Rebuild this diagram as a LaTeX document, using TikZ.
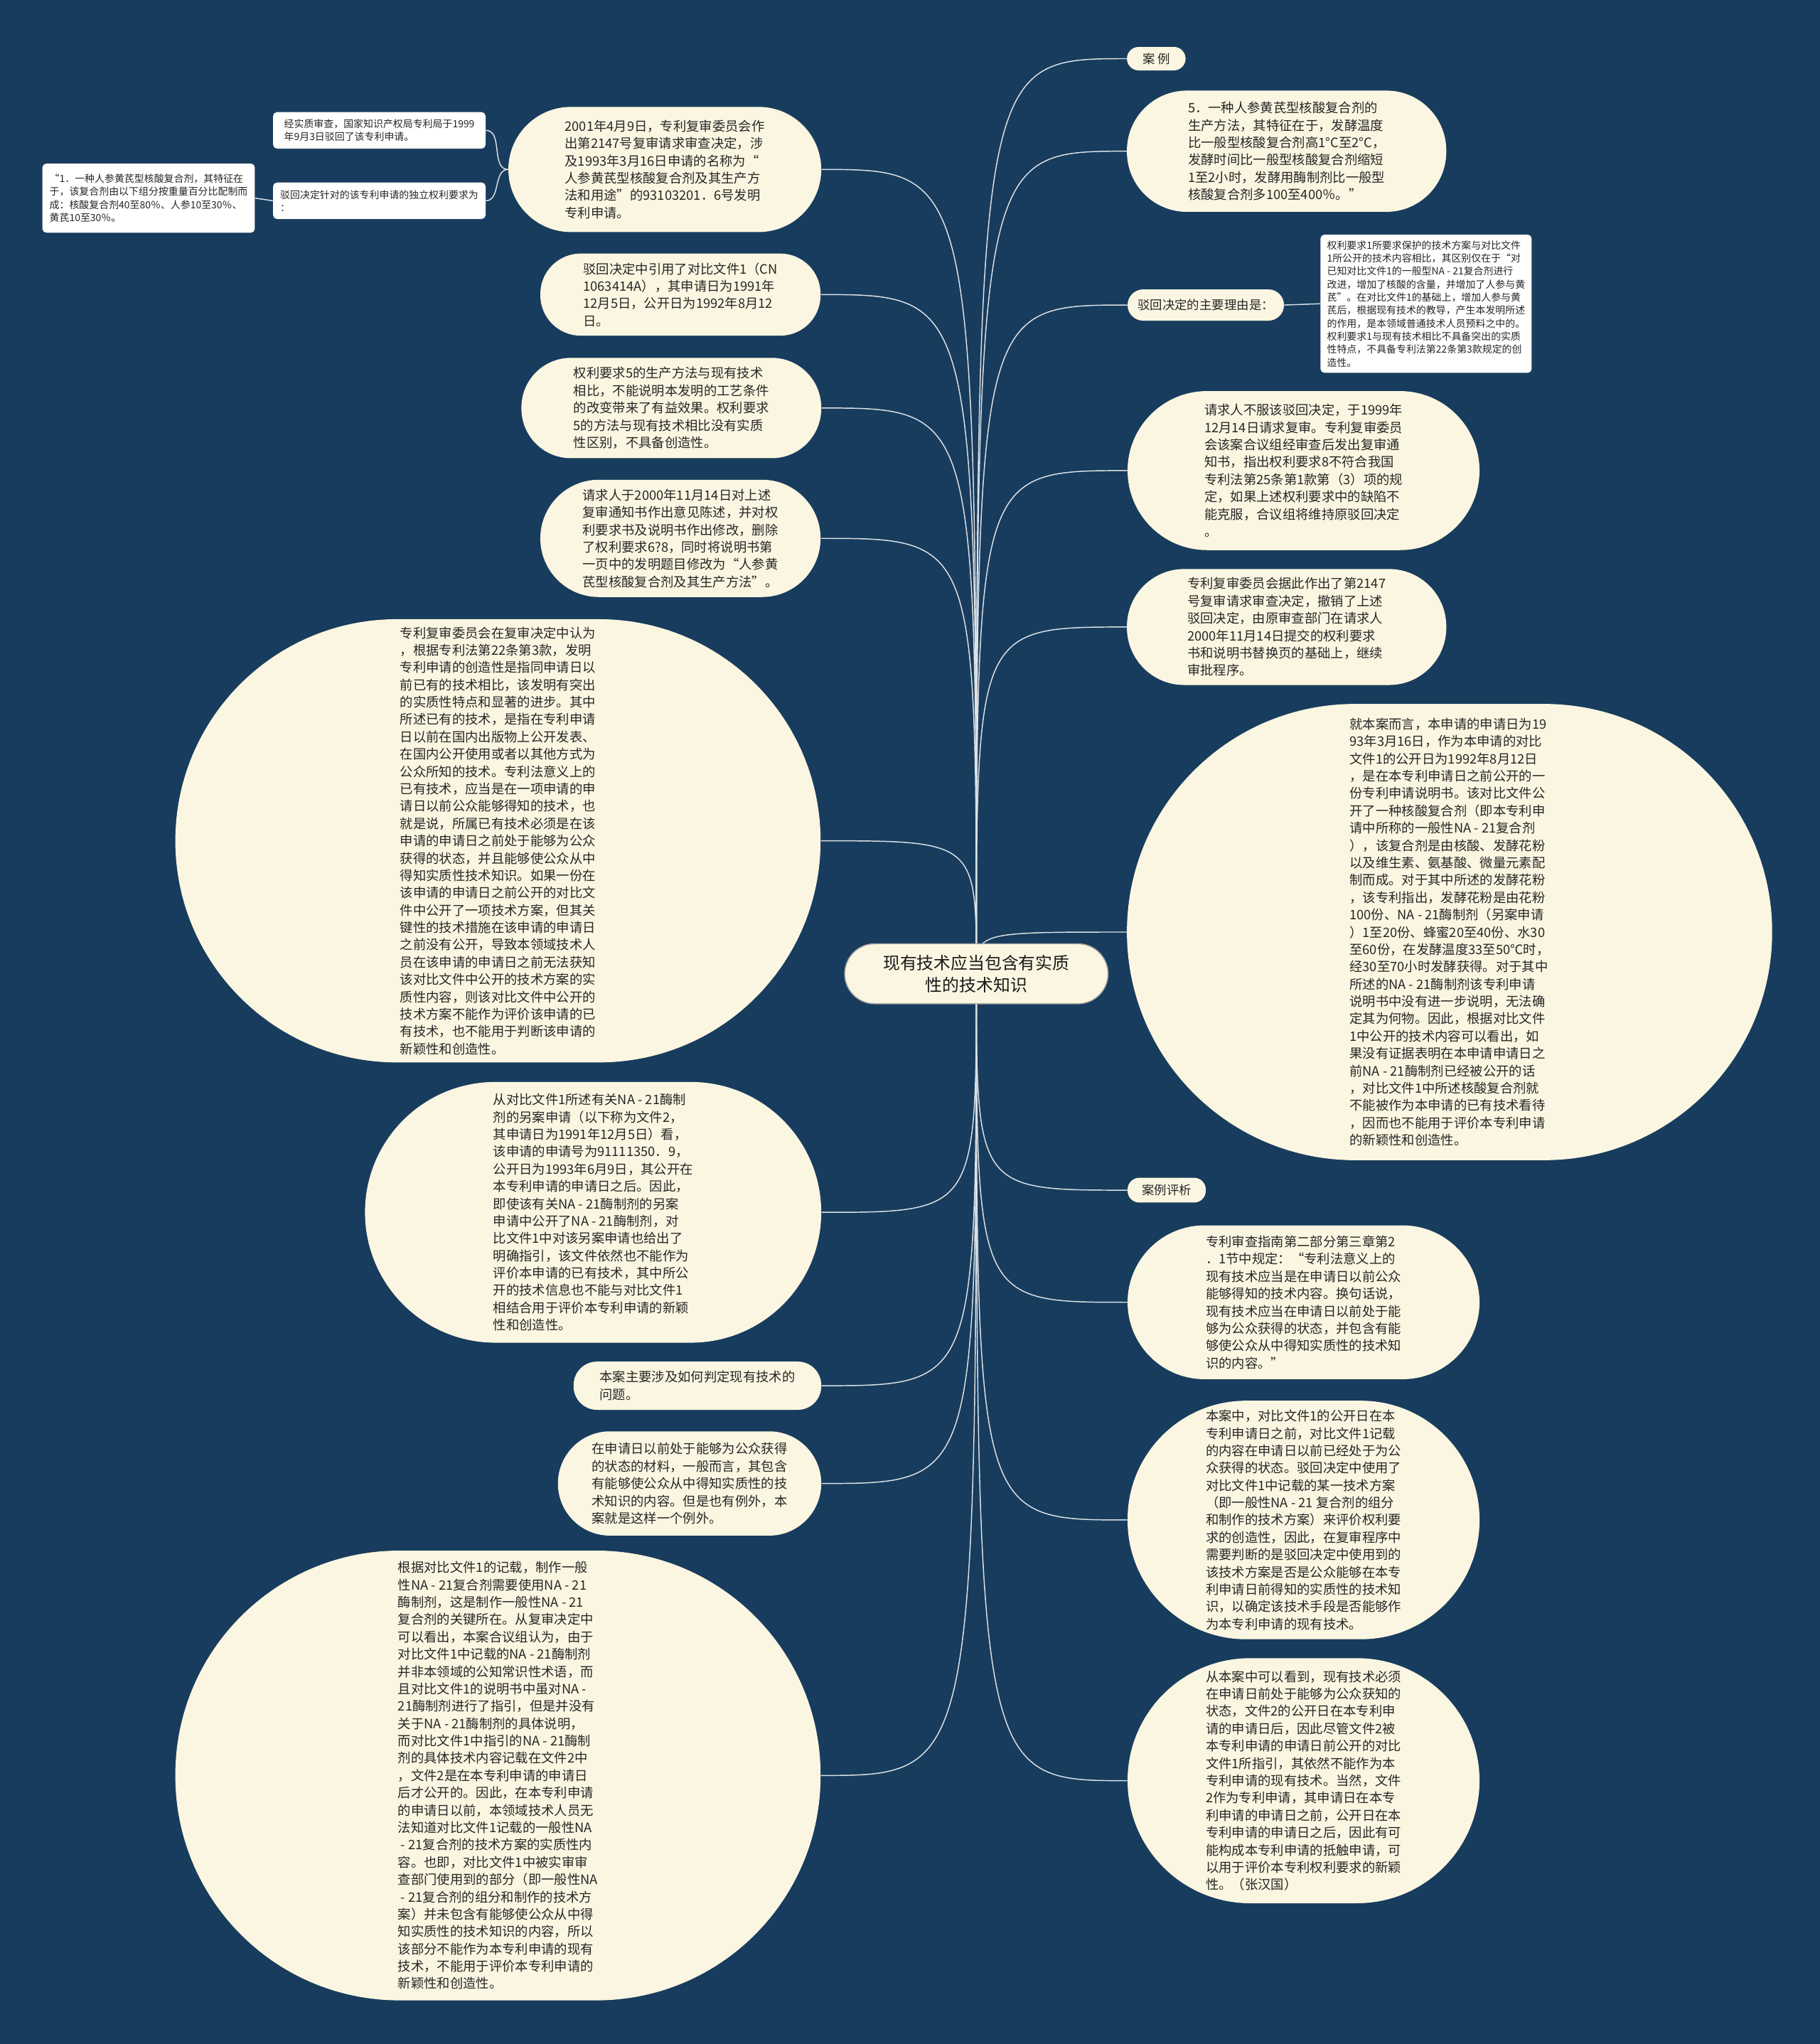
\documentclass[tikz,border=0pt]{standalone}
\usepackage{fontspec}
\setmainfont{Noto Sans CJK SC}
\usepackage{tikz}
\usetikzlibrary{backgrounds}
\definecolor{mapnavy}{HTML}{183C5D}
\definecolor{mapcream}{HTML}{FBF6E1}
\definecolor{mapline}{HTML}{DCE1E6}
\newcommand\bodysize{\fontsize{10pt}{13.3pt}\selectfont}
\newcommand\notesize{\fontsize{7.6pt}{10pt}\selectfont}
\newcommand\tagsize{\fontsize{9.5pt}{11pt}\selectfont}
\newcommand\rootsize{\fontsize{13pt}{17pt}\selectfont}
\tikzset{
  mapbox/.style={fill=mapcream, inner sep=0pt, align=left, font=\bodysize, text=black!85},
  maptag/.style={fill=mapcream, rounded corners=9pt, inner sep=0pt, align=center, font=\tagsize, text=black!85},
  notebox/.style={fill=white!97!mapcream, rounded corners=3pt, inner sep=0pt, align=left, font=\notesize, text=black!85},
  rootbox/.style={fill=mapcream, draw=black!35, line width=0.8pt, rounded corners=23pt, inner sep=0pt, align=center, font=\rootsize, text=black!90},
  maparr/.style={draw=mapline, line width=0.8pt},
}
\begin{document}
\begin{tikzpicture}[x=1pt,y=-1pt]
\useasboundingbox (0,0) rectangle (1396,1568);
\node[rootbox, minimum width=202pt, minimum height=46pt] (root) at (749,747)
  {现有技术应当包含有实质\\性的技术知识};
% right side
\node[maptag, minimum width=45pt, minimum height=18pt] (case) at (887,45) {案 例};
\node[mapbox, rounded corners=46pt, minimum width=245pt, minimum height=93pt] (claim5) at (987,116)
  {5．一种人参黄芪型核酸复合剂的\\生产方法，其特征在于，发酵温度\\比一般型核酸复合剂高1°C至2°C，\\发酵时间比一般型核酸复合剂缩短\\1至2小时，发酵用酶制剂比一般型\\核酸复合剂多100至400％。”};
\node[maptag, rounded corners=12pt, minimum width=120pt, minimum height=24pt] (reason) at (925,234) {驳回决定的主要理由是：};
\node[notebox, minimum width=162pt, minimum height=106pt] (reasontxt) at (1094,233)
  {权利要求1所要求保护的技术方案与对比文件\\1所公开的技术内容相比，其区别仅在于“对\\已知对比文件1的一般型NA - 21复合剂进行\\改进，增加了核酸的含量，并增加了人参与黄\\芪”。在对比文件1的基础上，增加人参与黄\\芪后，根据现有技术的教导，产生本发明所述\\的作用，是本领域普通技术人员预料之中的。\\权利要求1与现有技术相比不具备突出的实质\\性特点，不具备专利法第22条第3款规定的创\\造性。};
\node[mapbox, rounded corners=61pt, minimum width=270pt, minimum height=122pt] (appeal) at (1000,361)
  {请求人不服该驳回决定，于1999年\\12月14日请求复审。专利复审委员\\会该案合议组经审查后发出复审通\\知书，指出权利要求8不符合我国\\专利法第25条第1款第（3）项的规\\定，如果上述权利要求中的缺陷不\\能克服，合议组将维持原驳回决定\\。};
\node[mapbox, rounded corners=44pt, minimum width=245pt, minimum height=89pt] (revoke) at (987,481)
  {专利复审委员会据此作出了第2147\\号复审请求审查决定，撤销了上述\\驳回决定，由原审查部门在请求人\\2000年11月14日提交的权利要求\\书和说明书替换页的基础上，继续\\审批程序。};
\node[mapbox, rounded corners=175pt, minimum width=495pt, minimum height=350pt] (facts) at (1112,715)
  {就本案而言，本申请的申请日为19\\93年3月16日，作为本申请的对比\\文件1的公开日为1992年8月12日\\，是在本专利申请日之前公开的一\\份专利申请说明书。该对比文件公\\开了一种核酸复合剂（即本专利申\\请中所称的一般性NA - 21复合剂\\），该复合剂是由核酸、发酵花粉\\以及维生素、氨基酸、微量元素配\\制而成。对于其中所述的发酵花粉\\，该专利指出，发酵花粉是由花粉\\100份、NA - 21酶制剂（另案申请\\）1至20份、蜂蜜20至40份、水30\\至60份，在发酵温度33至50℃时，\\经30至70小时发酵获得。对于其中\\所述的NA - 21酶制剂该专利申请\\说明书中没有进一步说明，无法确\\定其为何物。因此，根据对比文件\\1中公开的技术内容可以看出，如\\果没有证据表明在本申请申请日之\\前NA - 21酶制剂已经被公开的话\\，对比文件1中所述核酸复合剂就\\不能被作为本申请的已有技术看待\\，因而也不能用于评价本专利申请\\的新颖性和创造性。};
\node[maptag, minimum width=60pt, minimum height=19pt] (review) at (895,913) {案例评析};
\node[mapbox, rounded corners=59pt, minimum width=270pt, minimum height=118pt] (guide) at (1000,999)
  {专利审查指南第二部分第三章第2\\．1节中规定：“专利法意义上的\\现有技术应当是在申请日以前公众\\能够得知的技术内容。换句话说，\\现有技术应当在申请日以前处于能\\够为公众获得的状态，并包含有能\\够使公众从中得知实质性的技术知\\识的内容。”};
\node[mapbox, rounded corners=91pt, minimum width=270pt, minimum height=183pt] (incase) at (1000,1166)
  {本案中，对比文件1的公开日在本\\专利申请日之前，对比文件1记载\\的内容在申请日以前已经处于为公\\众获得的状态。驳回决定中使用了\\对比文件1中记载的某一技术方案\\（即一般性NA - 21 复合剂的组分\\和制作的技术方案）来评价权利要\\求的创造性，因此，在复审程序中\\需要判断的是驳回决定中使用到的\\该技术方案是否是公众能够在本专\\利申请日前得知的实质性的技术知\\识，以确定该技术手段是否能够作\\为本专利申请的现有技术。};
\node[mapbox, rounded corners=94pt, minimum width=270pt, minimum height=188pt] (lesson) at (1000,1366)
  {从本案中可以看到，现有技术必须\\在申请日前处于能够为公众获知的\\状态，文件2的公开日在本专利申\\请的申请日后，因此尽管文件2被\\本专利申请的申请日前公开的对比\\文件1所指引，其依然不能作为本\\专利申请的现有技术。当然，文件\\2作为专利申请，其申请日在本专\\利申请的申请日之前，公开日在本\\专利申请的申请日之后，因此有可\\能构成本专利申请的抵触申请，可\\以用于评价本专利权利要求的新颖\\性。（张汉国）};
% left side
\node[mapbox, rounded corners=48pt, minimum width=240pt, minimum height=96pt] (decision) at (510,130)
  {2001年4月9日，专利复审委员会作\\出第2147号复审请求审查决定，涉\\及1993年3月16日申请的名称为“\\人参黄芪型核酸复合剂及其生产方\\法和用途”的93103201．6号发明\\专利申请。};
\node[notebox, minimum width=163pt, minimum height=28pt] (reject) at (291,100)
  {经实质审查，国家知识产权局专利局于1999\\年9月3日驳回了该专利申请。};
\node[notebox, minimum width=163pt, minimum height=28pt] (indep) at (291,154)
  {驳回决定针对的该专利申请的独立权利要求为\\：};
\node[notebox, minimum width=163pt, minimum height=53pt] (claim1) at (114,152)
  {“1．一种人参黄芪型核酸复合剂，其特征在\\于，该复合剂由以下组分按重量百分比配制而\\成：核酸复合剂40至80％、人参10至30％、\\黄芪10至30％。};
\node[mapbox, rounded corners=31pt, minimum width=215pt, minimum height=63pt] (cited) at (522,226)
  {驳回决定中引用了对比文件1（CN\\1063414A），其申请日为1991年\\12月5日，公开日为1992年8月12\\日。};
\node[mapbox, rounded corners=38pt, minimum width=230pt, minimum height=77pt] (method) at (515,313)
  {权利要求5的生产方法与现有技术\\相比，不能说明本发明的工艺条件\\的改变带来了有益效果。权利要求\\5的方法与现有技术相比没有实质\\性区别，不具备创造性。};
\node[mapbox, rounded corners=45pt, minimum width=215pt, minimum height=90pt] (amend) at (522,413)
  {请求人于2000年11月14日对上述\\复审通知书作出意见陈述，并对权\\利要求书及说明书作出修改，删除\\了权利要求6?8，同时将说明书第\\一页中的发明题目修改为“人参黄\\芪型核酸复合剂及其生产方法”。};
\node[mapbox, rounded corners=170pt, minimum width=495pt, minimum height=340pt] (board) at (382,645)
  {专利复审委员会在复审决定中认为\\，根据专利法第22条第3款，发明\\专利申请的创造性是指同申请日以\\前已有的技术相比，该发明有突出\\的实质性特点和显著的进步。其中\\所述已有的技术，是指在专利申请\\日以前在国内出版物上公开发表、\\在国内公开使用或者以其他方式为\\公众所知的技术。专利法意义上的\\已有技术，应当是在一项申请的申\\请日以前公众能够得知的技术，也\\就是说，所属已有技术必须是在该\\申请的申请日之前处于能够为公众\\获得的状态，并且能够使公众从中\\得知实质性技术知识。如果一份在\\该申请的申请日之前公开的对比文\\件中公开了一项技术方案，但其关\\键性的技术措施在该申请的申请日\\之前没有公开，导致本领域技术人\\员在该申请的申请日之前无法获知\\该对比文件中公开的技术方案的实\\质性内容，则该对比文件中公开的\\技术方案不能作为评价该申请的已\\有技术，也不能用于判断该申请的\\新颖性和创造性。};
\node[mapbox, rounded corners=100pt, minimum width=350pt, minimum height=200pt] (doc2) at (455,930)
  {从对比文件1所述有关NA - 21酶制\\剂的另案申请（以下称为文件2，\\其申请日为1991年12月5日）看，\\该申请的申请号为91111350．9，\\公开日为1993年6月9日，其公开在\\本专利申请的申请日之后。因此，\\即使该有关NA - 21酶制剂的另案\\申请中公开了NA - 21酶制剂，对\\比文件1中对该另案申请也给出了\\明确指引，该文件依然也不能作为\\评价本申请的已有技术，其中所公\\开的技术信息也不能与对比文件1\\相结合用于评价本专利申请的新颖\\性和创造性。};
\node[mapbox, rounded corners=18pt, minimum width=190pt, minimum height=37pt] (issue) at (535,1063)
  {本案主要涉及如何判定现有技术的\\问题。};
\node[mapbox, rounded corners=40pt, minimum width=202pt, minimum height=80pt] (except) at (529,1138)
  {在申请日以前处于能够为公众获得\\的状态的材料，一般而言，其包含\\有能够使公众从中得知实质性的技\\术知识的内容。但是也有例外，本\\案就是这样一个例外。};
\node[mapbox, rounded corners=172pt, minimum width=495pt, minimum height=345pt] (analysis) at (382,1362)
  {根据对比文件1的记载，制作一般\\性NA - 21复合剂需要使用NA - 21\\酶制剂，这是制作一般性NA - 21\\复合剂的关键所在。从复审决定中\\可以看出，本案合议组认为，由于\\对比文件1中记载的NA - 21酶制剂\\并非本领域的公知常识性术语，而\\且对比文件1的说明书中虽对NA -\\21酶制剂进行了指引，但是并没有\\关于NA - 21酶制剂的具体说明，\\而对比文件1中指引的NA - 21酶制\\剂的具体技术内容记载在文件2中\\，文件2是在本专利申请的申请日\\后才公开的。因此，在本专利申请\\的申请日以前，本领域技术人员无\\法知道对比文件1记载的一般性NA\\\ - 21复合剂的技术方案的实质性内\\容。也即，对比文件1中被实审审\\查部门使用到的部分（即一般性NA\\\ - 21复合剂的组分和制作的技术方\\案）并未包含有能够使公众从中得\\知实质性的技术知识的内容，所以\\该部分不能作为本专利申请的现有\\技术，不能用于评价本专利申请的\\新颖性和创造性。};
\begin{scope}[on background layer]
\fill[mapnavy] (0,0) rectangle (1396,1568);
% root to right branches
\draw[maparr] (root.center) .. controls (root.center |- case.west) .. (case.west);
\draw[maparr] (root.center) .. controls (root.center |- claim5.west) .. (claim5.west);
\draw[maparr] (root.center) .. controls (root.center |- reason.west) .. (reason.west);
\draw[maparr] (root.center) .. controls (root.center |- appeal.west) .. (appeal.west);
\draw[maparr] (root.center) .. controls (root.center |- revoke.west) .. (revoke.west);
\draw[maparr] (root.center) .. controls (root.center |- facts.west) .. (facts.west);
\draw[maparr] (root.center) .. controls (root.center |- review.west) .. (review.west);
\draw[maparr] (root.center) .. controls (root.center |- guide.west) .. (guide.west);
\draw[maparr] (root.center) .. controls (root.center |- incase.west) .. (incase.west);
\draw[maparr] (root.center) .. controls (root.center |- lesson.west) .. (lesson.west);
% root to left branches
\draw[maparr] (root.center) .. controls (root.center |- decision.east) .. (decision.east);
\draw[maparr] (root.center) .. controls (root.center |- cited.east) .. (cited.east);
\draw[maparr] (root.center) .. controls (root.center |- method.east) .. (method.east);
\draw[maparr] (root.center) .. controls (root.center |- amend.east) .. (amend.east);
\draw[maparr] (root.center) .. controls (root.center |- board.east) .. (board.east);
\draw[maparr] (root.center) .. controls (root.center |- doc2.east) .. (doc2.east);
\draw[maparr] (root.center) .. controls (root.center |- issue.east) .. (issue.east);
\draw[maparr] (root.center) .. controls (root.center |- except.east) .. (except.east);
\draw[maparr] (root.center) .. controls (root.center |- analysis.east) .. (analysis.east);
% sub branches
\draw[maparr] (decision.west) to[out=180,in=0] (reject.east);
\draw[maparr] (decision.west) to[out=180,in=0] (indep.east);
\draw[maparr] (indep.west) -- (claim1.east);
\draw[maparr] (reason.east) -- (reasontxt.west);
\end{scope}
\end{tikzpicture}
\end{document}
